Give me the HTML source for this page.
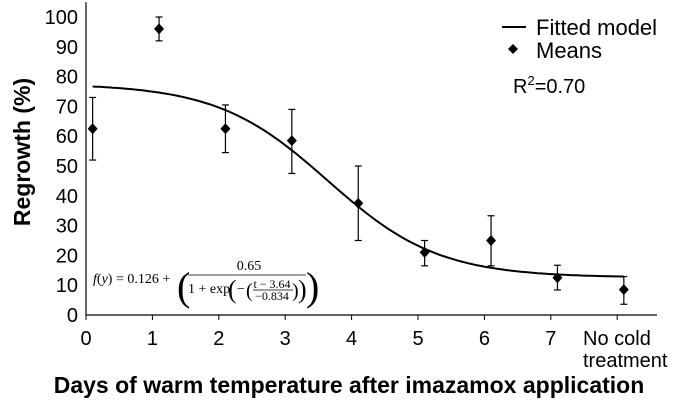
<!DOCTYPE html>
<html><head><meta charset="utf-8"><style>
body{margin:0;background:#fff;}
svg{display:block;font-family:"Liberation Sans",sans-serif;}
</style></head><body>
<svg id="chart" width="673" height="406" viewBox="0 0 673 406">
<g id="axes"></g>
<g id="marks"></g>
<text transform="translate(30,152) rotate(-90)" text-anchor="middle" font-size="23" font-weight="bold">Regrowth (%)</text>
<text x="349" y="393" text-anchor="middle" font-size="23" font-weight="bold">Days of warm temperature after imazamox application</text>
<g>
<line x1="502" y1="27" x2="526" y2="27" stroke="#000" stroke-width="2"/>
<text x="536" y="35" font-size="22">Fitted model</text>
<path d="M513,44 L518,49 L513,54 L508,49Z" fill="#000"/>
<text x="536" y="58" font-size="22">Means</text>
</g>
<text x="513" y="93" font-size="20">R<tspan font-size="13" dy="-8">2</tspan><tspan dy="8">=0.70</tspan></text>
<g font-family="'Liberation Serif',serif" font-size="14">
<text x="93" y="283"><tspan font-style="italic">f</tspan>(<tspan font-style="italic">y</tspan>) = 0.126 +</text>
<text x="177" y="300" font-size="40">(</text>
<text x="249" y="270" text-anchor="middle">0.65</text>
<line x1="188" y1="275" x2="306" y2="275" stroke="#000" stroke-width="0.8"/>
<text x="188" y="293">1 + exp</text>
<text x="228" y="298" font-size="26">(</text>
<text x="237" y="293">−</text>
<text x="246" y="297" font-size="20">(</text>
<text x="272" y="288" text-anchor="middle" font-size="12">t − 3.64</text>
<line x1="253" y1="290" x2="293" y2="290" stroke="#000" stroke-width="0.7"/>
<text x="272" y="300" text-anchor="middle" font-size="12">−0.834</text>
<text x="292" y="297" font-size="20">)</text>
<text x="298" y="298" font-size="26">)</text>
<text x="306" y="300" font-size="40">)</text>
</g>
</svg>
<script>
const tickValues=[0,1,2,3,4,5,6,7];
const tickLabels=["0","1","2","3","4","5","6","7"];
const yTicks=[0,10,20,30,40,50,60,70,80,90,100];
const pointX=[0.1,1.1,2.1,3.1,4.1,5.1,6.1,7.1,8.1];
const means=[62.5,96,62.5,58.5,37.5,21,25,12.5,8.5];
const errLow=[52,92,54.5,47.5,25,16.5,16.5,8.4,3.6];
const errHigh=[73,100,70.5,69,50,25,33.3,16.7,12.9];
const modelParams=[12.6,65,3.64,0.834];
const curveRange=[0.1,8.1];

const NS="http://www.w3.org/2000/svg";
const X0=86,XS=66.4,Y0=315,YS=2.98;
const sx=v=>X0+v*XS, sy=v=>Y0-v*YS;
function mk(tag,attrs,parent){const e=document.createElementNS(NS,tag);for(const k in attrs)e.setAttribute(k,attrs[k]);parent.appendChild(e);return e;}
const axes=document.getElementById('axes'),marks=document.getElementById('marks');
let e=mk('line',{x1:X0,y1:sy(105),x2:X0,y2:Y0,stroke:'#000','stroke-width':1.2},axes);


e=mk('line',{x1:X0,y1:Y0,x2:657,y2:Y0,stroke:'#000','stroke-width':1.2},axes);


yTicks.forEach(v=>{
 const t=mk('text',{x:X0-8,y:sy(v)+7,'text-anchor':'end','font-size':20},axes);t.textContent=v;
 
 
});
tickValues.concat([8]).forEach(v=>{
 const l=mk('line',{x1:sx(v),y1:Y0,x2:sx(v),y2:Y0+5,stroke:'#000','stroke-width':1},axes);
 
 
});
tickValues.forEach((v,i)=>{
 const t=mk('text',{x:sx(v),y:Y0+30,'text-anchor':'middle','font-size':20},axes);t.textContent=tickLabels[i];
 
 
});
e=mk('text',{x:583,y:Y0+30,'font-size':20},axes);e.textContent='No cold';


e=mk('text',{x:583,y:Y0+52,'font-size':20},axes);e.textContent='treatment';


let d='';
for(let i=0;i<=160;i++){const t=curveRange[0]+(curveRange[1]-curveRange[0])*i/160;
 const y=modelParams[0]+modelParams[1]/(1+Math.exp((t-modelParams[2])/modelParams[3]));
 d+=(i?'L':'M')+sx(t).toFixed(1)+','+sy(y).toFixed(1);}
e=mk('path',{d:d,fill:'none',stroke:'#000','stroke-width':2},marks);


pointX.forEach((x,i)=>{
 const px=sx(x);
 const g=mk('g',{},marks);
 
 
 mk('line',{x1:px,y1:sy(errLow[i]),x2:px,y2:sy(errHigh[i]),stroke:'#000','stroke-width':1.2},g);
 mk('line',{x1:px-3.5,y1:sy(errLow[i]),x2:px+3.5,y2:sy(errLow[i]),stroke:'#000','stroke-width':1.2},g);
 mk('line',{x1:px-3.5,y1:sy(errHigh[i]),x2:px+3.5,y2:sy(errHigh[i]),stroke:'#000','stroke-width':1.2},g);
 const py=sy(means[i]);
 mk('path',{d:`M${px},${py-5.5}L${px+5},${py}L${px},${py+5.5}L${px-5},${py}Z`,fill:'#000'},g);
});
</script>
</body></html>
